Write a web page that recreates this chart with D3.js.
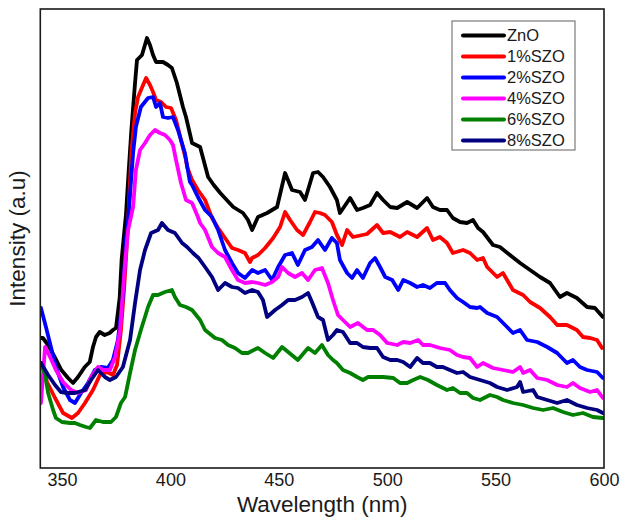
<!DOCTYPE html>
<html>
<head>
<meta charset="utf-8">
<script src="https://cdn.jsdelivr.net/npm/d3@7"></script>
<style>
  html, body { margin: 0; padding: 0; background: #fff; }
  svg { display: block; font-family: "Liberation Sans", Arial, sans-serif; }
</style>
</head>
<body>
<svg id="chart" width="620" height="519"></svg>
<script>
// PL spectra: [wavelength (nm), intensity (a.u.)]
const seriesNames = ["ZnO", "1%SZO", "2%SZO", "4%SZO", "6%SZO", "8%SZO"];
const seriesColors = ["#000000", "#ff0000", "#0000ff", "#ff00ff", "#008000", "#000080"];
const xTicks = [350, 400, 450, 500, 550, 600];

const znO = [
  [340.3,130],[341.2,130],[343.6,123],[346.6,111],[349.7,98],[352.8,90],[355.1,85],[357.4,91],[360.5,101],
  [362.8,106],[364.3,121],[365.7,131],[367.4,136],[369.7,133],[372.0,135],[373.5,138],[374.9,140],[376.6,170],
  [377.5,208],[378.6,233],[379.5,253],[380.5,288],[382.0,338],[383.7,385],[384.6,408],[386.9,413],[389.2,430],
  [390.6,423],[392.0,413],[393.4,406],[395.0,406],[396.6,406],[398.9,403],[400.7,400],[403.0,385],[405.8,361],
  [407.2,351],[410.0,325],[413.7,321],[417.4,291],[420.0,283],[423.0,275],[429.0,261],[433.5,255],[435.8,248],
  [437.7,238],[440.4,251],[444.6,255],[449.2,261],[452.9,295],[456.1,278],[459.8,276],[462.1,268],[465.8,295],
  [468.1,296],[470.4,291],[473.6,281],[476.8,268],[478.2,255],[482.9,270],[486.1,258],[488.8,260],[492.1,263],
  [495.3,275],[498.1,268],[501.4,261],[504.6,260],[509.2,266],[513.8,260],[518.4,270],[521.1,261],[524.3,258],
  [527.6,258],[530.3,250],[533.6,246],[536.8,245],[539.6,248],[541.9,240],[544.2,236],[548.8,223],[552.0,221],
  [556.6,213],[561.3,205],[565.9,198],[570.5,191],[575.1,185],[579.7,171],[582.9,175],[587.5,170],[592.2,161],
  [595.8,160],[599.5,151]
];

const szo1 = [
  [340.8,105],[343.1,86],[346.8,70],[350.5,55],[354.6,50],[357.4,55],[360.6,65],[364.3,78],[367.5,93],
  [370.8,96],[373.5,93],[375.4,103],[377.2,138],[378.6,178],[379.5,208],[381.0,268],[382.0,315],[383.7,355],
  [385.1,371],[387.4,383],[388.8,390],[390.6,383],[392.0,376],[393.4,368],[395.7,366],[398.0,361],[400.3,360],
  [402.6,348],[404.9,328],[407.2,308],[407.7,301],[410.0,288],[412.7,278],[416.0,268],[419.2,250],[422.0,240],
  [425.2,230],[428.4,220],[431.2,218],[434.4,215],[436.7,206],[437.7,210],[440.4,213],[443.7,220],[447.4,230],
  [450.6,241],[452.9,256],[455.2,248],[458.4,238],[461.2,233],[464.4,246],[466.7,256],[469.0,255],[471.3,253],
  [474.5,246],[476.8,233],[479.2,223],[481.5,238],[484.2,231],[486.5,232],[490.7,234],[495.3,243],[498.1,235],
  [501.4,236],[505.9,231],[509.2,236],[513.8,231],[518.4,240],[521.1,228],[524.3,231],[527.6,225],[530.3,215],
  [535.0,218],[538.2,215],[541.5,208],[544.2,210],[546.1,201],[550.7,191],[553.4,195],[558.0,178],[562.7,173],
  [565.9,166],[570.5,160],[575.1,151],[578.4,143],[582.9,143],[587.5,138],[590.3,131],[593.6,130],[596.8,128],
  [599.1,120]
];

const szo2 = [
  [340.3,160],[342.6,141],[344.9,121],[347.2,101],[350.5,81],[353.7,68],[356.0,65],[358.8,75],[362.0,85],
  [365.2,98],[368.0,101],[371.2,100],[373.5,108],[375.8,128],[378.1,171],[379.5,228],[380.5,248],[382.8,315],
  [384.1,341],[386.4,361],[389.7,370],[392.0,371],[393.4,361],[395.2,365],[396.6,351],[398.9,350],[401.2,351],
  [403.5,338],[406.7,315],[409.0,286],[410.0,283],[412.7,271],[416.0,258],[419.2,251],[422.0,238],[425.2,218],
  [428.4,205],[431.2,195],[434.4,190],[437.7,198],[440.4,195],[443.7,198],[446.9,188],[449.7,201],[452.9,213],
  [456.1,215],[458.8,203],[462.1,218],[465.3,221],[468.1,228],[471.3,218],[474.5,230],[476.8,225],[478.2,208],
  [481.5,195],[483.8,190],[486.1,198],[488.8,190],[492.1,205],[494.4,210],[496.7,201],[499.1,191],[502.3,188],
  [505.1,178],[507.4,188],[510.6,185],[513.8,181],[516.5,183],[519.7,180],[522.9,185],[526.7,185],[528.9,178],
  [532.2,170],[535.0,166],[538.2,161],[541.5,160],[542.8,161],[546.1,155],[550.7,151],[555.3,141],[558.0,135],
  [561.3,138],[564.5,128],[569.2,126],[573.8,121],[578.4,115],[582.9,105],[585.7,108],[588.9,101],[592.2,98],
  [596.8,96],[599.5,90]
];

const szo4 = [
  [340.3,65],[342.2,121],[344.5,111],[347.2,98],[350.5,86],[354.2,78],[357.4,75],[361.1,78],[363.4,91],
  [366.6,101],[368.9,98],[372.1,98],[374.5,111],[376.8,138],[379.1,205],[380.5,238],[382.8,261],[384.1,298],
  [386.0,318],[388.3,325],[390.6,333],[392.9,338],[395.2,335],[397.5,333],[399.8,328],[401.2,323],[402.6,308],
  [404.9,285],[407.2,268],[410.0,265],[412.7,251],[413.7,245],[416.0,238],[419.2,221],[422.0,215],[425.2,211],
  [428.4,198],[431.2,188],[434.4,185],[437.7,186],[440.4,185],[443.7,183],[446.9,186],[449.7,191],[451.5,201],
  [454.3,195],[457.5,191],[460.7,195],[463.5,188],[466.7,198],[469.9,200],[472.7,185],[475.0,168],[477.3,153],
  [479.6,148],[482.9,141],[486.5,145],[490.7,138],[493.5,138],[496.7,133],[500.0,125],[504.6,123],[507.4,126],
  [510.6,125],[514.3,128],[516.5,123],[519.7,123],[524.3,120],[528.9,118],[532.2,113],[535.0,111],[538.2,110],
  [541.5,101],[544.2,105],[548.8,100],[553.4,98],[558.0,96],[561.3,101],[562.7,95],[565.9,98],[569.2,90],
  [573.8,88],[578.4,83],[582.9,81],[585.7,85],[588.9,80],[593.6,76],[596.8,78],[599.5,70]
];

const szo6 = [
  [340.3,105],[342.2,93],[343.6,75],[345.9,58],[347.2,50],[350.0,46],[353.7,45],[356.0,45],[358.3,43],
  [361.1,41],[362.9,40],[365.7,48],[368.9,46],[372.6,46],[374.9,51],[377.2,65],[379.1,71],[381.4,95],
  [383.7,118],[386.4,138],[389.7,161],[392.0,173],[394.3,173],[397.5,176],[400.7,178],[402.1,171],[404.4,163],
  [407.2,161],[410.0,158],[413.7,148],[416.0,138],[420.6,130],[423.8,128],[426.6,123],[429.8,120],[433.0,115],
  [435.8,115],[440.4,120],[443.7,115],[447.4,110],[451.5,121],[454.3,116],[458.8,108],[463.5,120],[466.7,115],
  [469.9,123],[472.7,113],[475.0,108],[476.8,105],[479.6,98],[482.9,95],[486.1,91],[488.8,88],[491.2,91],
  [495.3,91],[498.1,91],[502.8,90],[505.9,85],[509.2,85],[512.0,88],[515.2,91],[518.8,88],[522.9,83],
  [527.6,78],[530.3,80],[533.6,75],[536.8,75],[539.6,70],[542.8,68],[547.4,73],[550.7,71],[553.4,68],
  [558.0,65],[562.7,63],[567.3,60],[571.9,58],[576.5,60],[581.1,56],[585.7,53],[590.3,55],[594.9,51],[599.5,50]
];

const szo8 = [
  [340.3,105],[343.6,93],[346.8,83],[349.5,76],[352.8,75],[356.0,75],[360.6,78],[363.4,88],[366.6,98],
  [369.8,91],[372.1,88],[374.9,91],[378.1,101],[381.4,128],[383.7,165],[386.0,198],[388.3,218],[391.1,235],
  [394.3,238],[396.1,245],[398.9,238],[402.1,235],[405.4,225],[407.7,221],[410.4,215],[413.0,210],[416.0,201],
  [419.2,191],[422.0,178],[425.2,185],[428.4,181],[431.2,180],[434.4,175],[437.7,178],[440.4,176],[442.7,168],
  [444.6,151],[448.3,158],[451.5,163],[454.3,168],[457.5,168],[460.7,171],[463.5,175],[465.3,166],[468.1,151],
  [470.4,148],[472.7,128],[475.0,133],[476.8,138],[479.6,136],[482.9,125],[486.1,125],[488.8,121],[492.1,120],
  [495.3,120],[498.1,111],[501.4,108],[504.6,108],[507.4,106],[510.6,101],[513.8,110],[516.5,105],[519.7,105],
  [522.9,101],[525.7,101],[528.9,98],[532.2,95],[535.0,96],[538.2,91],[542.8,88],[547.4,85],[550.7,81],
  [555.3,78],[559.9,81],[561.3,86],[562.7,76],[567.3,78],[569.2,71],[573.8,68],[578.4,65],[582.9,68],
  [587.5,63],[592.2,60],[596.8,58],[599.5,55]
];

const allSeries = [znO, szo1, szo2, szo4, szo6, szo8];

const svg = d3.select("#chart");
const plot = { left: 40.3, right: 604, top: 9, bottom: 468 };

const x = d3.scaleLinear().domain([340, 600]).range([plot.left, plot.right]);
const y = d3.scaleLinear().domain([0, 459]).range([plot.bottom, plot.top]);

svg.append("defs").append("clipPath").attr("id", "plot-clip")
  .append("rect")
  .attr("x", plot.left).attr("y", plot.top)
  .attr("width", plot.right - plot.left).attr("height", plot.bottom - plot.top);

// spectra
const line = d3.line().x(d => x(d[0])).y(d => y(d[1]));
const lines = svg.append("g").attr("clip-path", "url(#plot-clip)");
allSeries.forEach((s, i) => {
  lines.append("path")
    .datum(s)
    .attr("d", line)
    .attr("fill", "none")
    .attr("stroke", seriesColors[i])
    .attr("stroke-width", 3.8)
    .attr("stroke-linejoin", "round")
    .attr("stroke-linecap", "round");
});

// frame
svg.append("rect")
  .attr("x", plot.left).attr("y", plot.top)
  .attr("width", plot.right - plot.left).attr("height", plot.bottom - plot.top)
  .attr("fill", "none").attr("stroke", "#1a1a1a").attr("stroke-width", 1.6);

// x axis labels (no tick marks)
const xAxis = svg.append("g")
  .attr("transform", `translate(0,${plot.bottom})`)
  .call(d3.axisBottom(x).tickValues(xTicks).tickSize(0).tickPadding(5).tickFormat(d3.format("d")));
xAxis.select(".domain").remove();
xAxis.selectAll("text")
  .attr("font-size", 18)
  .attr("font-family", "Liberation Sans, Arial, sans-serif")
  .attr("fill", "#1a1a1a");

// axis titles
svg.append("text")
  .attr("x", (plot.left + plot.right) / 2).attr("y", 512)
  .attr("text-anchor", "middle")
  .attr("font-size", 22.5)
  .attr("fill", "#1a1a1a")
  .text("Wavelength (nm)");

svg.append("text")
  .attr("transform", `translate(25,${(plot.top + plot.bottom) / 2}) rotate(-90)`)
  .attr("text-anchor", "middle")
  .attr("font-size", 22.5)
  .attr("fill", "#1a1a1a")
  .text("Intensity (a.u)");

// legend
const legend = svg.append("g").attr("transform", "translate(452,21)");
legend.append("rect")
  .attr("width", 123).attr("height", 129)
  .attr("fill", "#fff").attr("stroke", "#7a7a7a").attr("stroke-width", 1.2);
seriesNames.forEach((name, i) => {
  const row = legend.append("g").attr("transform", `translate(0,${14.5 + i * 21})`);
  row.append("line")
    .attr("x1", 11).attr("x2", 52)
    .attr("stroke", seriesColors[i]).attr("stroke-width", 4).attr("stroke-linecap", "round");
  row.append("text")
    .attr("x", 55).attr("dy", "0.35em")
    .attr("font-size", 16.5)
    .attr("fill", "#1a1a1a")
    .text(name);
});
</script>
</body>
</html>
